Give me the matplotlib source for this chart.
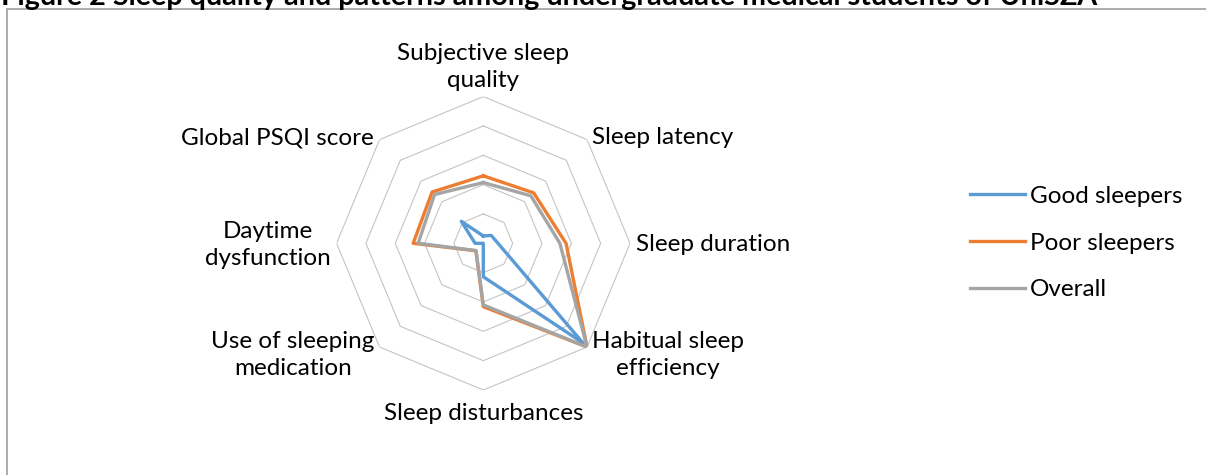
import numpy as np
import matplotlib
matplotlib.use("Agg")
import matplotlib.pyplot as plt
from matplotlib.patches import Rectangle

plt.rcParams['font.family'] = ['Lato', 'DejaVu Sans']

# --- данные ---
categories = ['Subjective sleep\nquality', 'Sleep latency', 'Sleep duration',
              'Habitual sleep\nefficiency', 'Sleep disturbances',
              'Use of sleeping\nmedication', 'Daytime\ndysfunction',
              'Global PSQI score']
good_sleepers = [0.25, 0.38, 0.50, 4.80, 1.14, 0.00, 0.28, 1.06]
poor_sleepers = [2.30, 2.43, 2.82, 5.00, 2.16, 0.36, 2.39, 2.47]
overall = [2.07, 2.29, 2.61, 5.00, 2.10, 0.35, 2.22, 2.35]
ring_levels = [1, 2, 3, 4, 5]
series_names = ['Good sleepers', 'Poor sleepers', 'Overall']
series_colors = ['#5B9BD5', '#ED7D31', '#A5A5A5']
title = 'Figure 2 Sleep quality and patterns among undergraduate medical students of UniSZA'

W, H = 1206, 475
fig = plt.figure(figsize=(W / 100, H / 100), dpi=100)

# рамка области диаграммы (уходит за правый и нижний край)
fig.add_artist(Rectangle((7 / W, -0.1), 1.2, (H - 9) / H + 0.1, transform=fig.transFigure,
                         fill=False, edgecolor='#a6a6a6', linewidth=1.3))

# полярные оси: центр (483, 243), радиус 147 px
cx, cy, R = 483.3, 243.3, 146.7
ax = fig.add_axes([(cx - R) / W, (H - cy - R) / H, 2 * R / W, 2 * R / H], projection='polar')
ax.set_theta_offset(np.pi / 2)
ax.set_theta_direction(-1)
ax.set_ylim(0, 5)
ax.set_xticks([])
ax.set_yticks([])
ax.grid(False)
ax.spines['polar'].set_visible(False)
ax.patch.set_alpha(0)

n = len(categories)
angles = np.linspace(0, 2 * np.pi, n, endpoint=False)
closed = np.append(angles, angles[0])

# восьмиугольная сетка
for r in ring_levels:
    ax.plot(closed, [r] * (n + 1), color='#c4c4c4', linewidth=0.8, zorder=1)

for vals, name, col in zip([good_sleepers, poor_sleepers, overall], series_names, series_colors):
    ax.plot(closed, vals + vals[:1], color=col, linewidth=2.4, label=name,
            solid_joinstyle='round', zorder=3)

# подписи категорий
fs = 17.5
label_style = [
    ('center', 'bottom', (0, 6)),
    ('left', 'center', (5, 2)),
    ('left', 'center', (6, -1)),
    ('left', 'center', (5, -8)),
    ('center', 'top', (0, -13)),
    ('right', 'center', (-5, -8)),
    ('right', 'center', (-6, -2)),
    ('right', 'center', (-6, 2)),
]
for ang, lab, (ha, va, off) in zip(angles, categories, label_style):
    ax.annotate(lab, xy=(ang, 5), xytext=off, textcoords='offset pixels',
                ha=ha, va=va, multialignment='center', fontsize=fs, color='#000000',
                linespacing=1.35, annotation_clip=False)

fig.legend(loc='center left', bbox_to_anchor=(970 / W, (H - 243) / H), frameon=False,
           fontsize=fs, handlelength=2.26, handletextpad=0.2, labelspacing=1.05,
           borderpad=0, borderaxespad=0)

fig.text(1 / W, 1 - 5 / H, title, ha='left', va='baseline', fontsize=20.7, fontweight='bold')

fig.savefig('out.png', dpi=100)
